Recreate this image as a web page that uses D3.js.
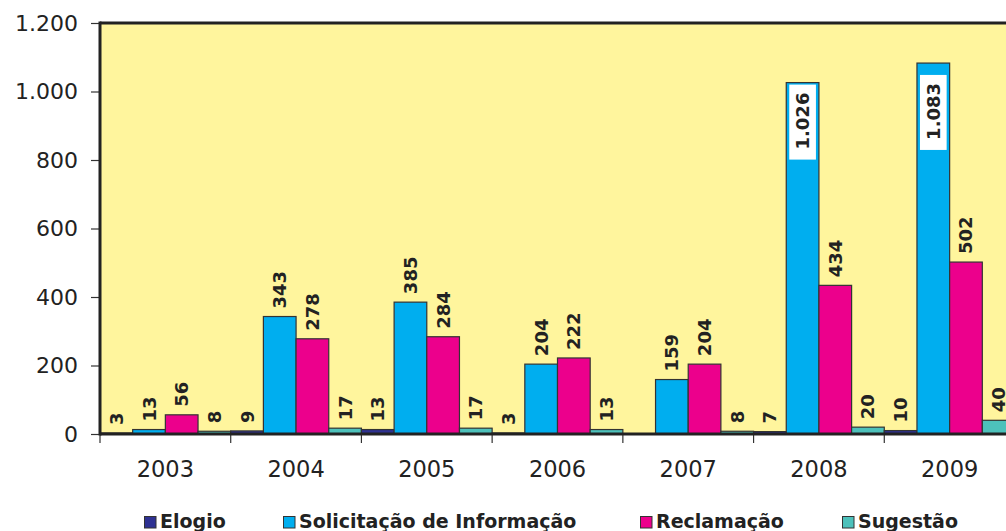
<!DOCTYPE html>
<html lang="pt">
<head>
    <meta charset="UTF-8">
    <script src="https://d3js.org/d3.v7.min.js"></script>
    <style>
        body { margin: 0; background: white; }
        text { font-family: "DejaVu Sans", Verdana, sans-serif; }
    </style>
</head>
<body>
    <svg id="chart" width="1006" height="531"></svg>
    <script>
        // dados
        const anos = ["2003", "2004", "2005", "2006", "2007", "2008", "2009"];
        const series = ["Elogio", "Solicitação de Informação", "Reclamação", "Sugestão"];
        const elogio = [3, 9, 13, 3, null, 7, 10];
        const solicitacao = [13, 343, 385, 204, 159, 1026, 1083];
        const reclamacao = [56, 278, 284, 222, 204, 434, 502];
        const sugestao = [8, 17, 17, 13, 8, 20, 40];
        const yTicks = [0, 200, 400, 600, 800, 1000, 1200];

        const cores = ["#2E3192", "#00AEEF", "#EC008C", "#4DC1BB"];
        const valores = [elogio, solicitacao, reclamacao, sugestao];

        const width = 1006, height = 531;
        const margin = { top: 23, left: 100, bottom: 97 };
        const plotRight = 1015; // a área do gráfico passa da borda direita

        const svg = d3.select("#chart");

        const x = d3.scaleBand()
            .domain(anos)
            .range([margin.left, plotRight])
            .padding(0);

        const xs = d3.scaleBand()
            .domain(series)
            .range([0, x.bandwidth()])
            .padding(0);

        const y = d3.scaleLinear()
            .domain([0, 1200])
            .range([height - margin.bottom, margin.top]);

        // fundo amarelo
        svg.append("rect")
            .attr("x", margin.left)
            .attr("y", margin.top)
            .attr("width", plotRight - margin.left)
            .attr("height", y(0) - margin.top)
            .attr("fill", "#FFF59D");

        const fmt = v => v >= 1000 ? d3.format(",")(v).replace(",", ".") : String(v);

        const dados = [];
        anos.forEach((ano, i) => {
            series.forEach((s, j) => {
                dados.push({ ano, serie: s, valor: valores[j][i], cor: cores[j] });
            });
        });

        // barras
        svg.append("g").selectAll("rect")
            .data(dados.filter(d => d.valor))
            .enter().append("rect")
            .attr("x", d => x(d.ano) + xs(d.serie))
            .attr("y", d => y(d.valor))
            .attr("width", xs.bandwidth())
            .attr("height", d => y(0) - y(d.valor))
            .attr("fill", d => d.cor)
            .attr("stroke", "#333")
            .attr("stroke-width", 1.2);

        // eixo y
        const yAxis = svg.append("g")
            .attr("transform", `translate(${margin.left},0)`)
            .call(d3.axisLeft(y).tickValues(yTicks).tickSize(9).tickPadding(13)
                .tickFormat(fmt));
        yAxis.select(".domain").remove();
        yAxis.selectAll("line").attr("stroke", "#333").attr("stroke-width", 1.2);
        yAxis.selectAll("text").style("font-size", "22px").attr("fill", "#222")
            .style("font-family", "'DejaVu Sans', Verdana, sans-serif");

        // eixo x
        const xAxis = svg.append("g")
            .attr("transform", `translate(0,${y(0)})`)
            .call(d3.axisBottom(x).tickSize(0).tickPadding(27));
        xAxis.select(".domain").remove();
        xAxis.selectAll("text").style("font-size", "22.5px").attr("fill", "#222")
            .style("font-family", "'DejaVu Sans', Verdana, sans-serif");

        // marcas entre categorias
        svg.append("g").selectAll("line")
            .data(anos)
            .enter().append("line")
            .attr("x1", d => x(d)).attr("x2", d => x(d))
            .attr("y1", y(0)).attr("y2", y(0) + 9)
            .attr("stroke", "#333").attr("stroke-width", 1.2);

        // bordas do gráfico
        svg.append("line")
            .attr("x1", margin.left).attr("x2", plotRight)
            .attr("y1", margin.top).attr("y2", margin.top)
            .attr("stroke", "#222").attr("stroke-width", 3);
        svg.append("line")
            .attr("x1", margin.left).attr("x2", margin.left)
            .attr("y1", margin.top - 1.5).attr("y2", y(0) + 1.5)
            .attr("stroke", "#222").attr("stroke-width", 3);
        svg.append("line")
            .attr("x1", margin.left).attr("x2", plotRight)
            .attr("y1", y(0)).attr("y2", y(0))
            .attr("stroke", "#222").attr("stroke-width", 3);

        // rótulos dos valores (os maiores ficam dentro da barra)
        const dentro = d => d.valor >= 1000;
        const rotulos = svg.append("g").selectAll("g")
            .data(dados.filter(d => d.valor))
            .enter().append("g")
            .attr("transform", d => {
                const cx = x(d.ano) + xs(d.serie) + xs.bandwidth() / 2;
                const ty = dentro(d) ? Math.max(y(d.valor) + 10, y(1025)) : y(d.valor) - 8;
                return `translate(${cx},${ty}) rotate(-90)`;
            });

        rotulos.filter(dentro)
            .append("rect")
            .attr("x", -67)
            .attr("y", -xs.bandwidth() / 2 + 3)
            .attr("width", 75)
            .attr("height", xs.bandwidth() - 6)
            .attr("fill", "white");

        rotulos.append("text")
            .attr("text-anchor", d => dentro(d) ? "end" : "start")
            .attr("dy", "0.36em")
            .style("font-size", "18px")
            .style("font-weight", "bold")
            .attr("fill", "#222")
            .text(d => fmt(d.valor));

        // legenda
        const legendaX = [144, 283, 640, 842];
        const legenda = svg.append("g").selectAll("g")
            .data(series)
            .enter().append("g")
            .attr("transform", (d, i) => `translate(${legendaX[i]},516)`);

        legenda.append("rect")
            .attr("x", 0.5).attr("y", 0.5)
            .attr("width", 11.5).attr("height", 11.5)
            .attr("fill", (d, i) => cores[i])
            .attr("stroke", "#333")
            .attr("stroke-width", 1);

        legenda.append("text")
            .attr("x", 16)
            .attr("y", 12)
            .style("font-size", "19px")
            .style("font-weight", "bold")
            .attr("fill", "#222")
            .text(d => d);
    </script>
</body>
</html>
